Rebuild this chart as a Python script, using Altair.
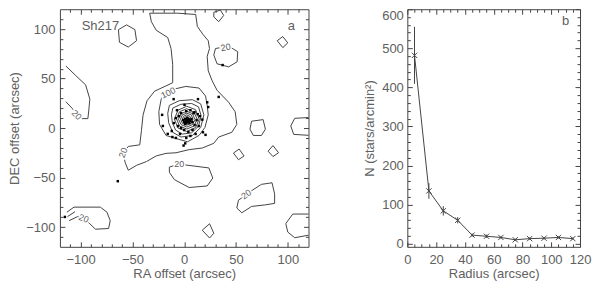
import altair as alt
import pandas as pd

TEXT = "#606060"
LINE = "#444444"
FONT = "Liberation Sans"

# ---------------- panel a : surface density contours (data units, arcsec) ----------------
c20_main = [[-33.3,116],[-6.3,116],[11.1,114.7],[12.7,102.6],[18.1,94.6],[23.2,88.2],[24.4,80.2],
            [22.2,72.3],[23.2,57.9],[27,47.7],[31.7,38.2],[42.9,26],[49.2,16.5],[50.8,3.7],[46,-4.3],
            [33.3,-9.1],[28.6,-15.4],[17.5,-20.2],[4.8,-21.8],[-7.9,-25],[-17.5,-25.6],[-27,-28.2],
            [-36.5,-33.9],[-46,-37.7],[-54,-42.6],[-57.1,-34.6],[-58.7,-25],[-54,-18.6],[-42.9,-17],
            [-41.3,-2.7],[-39.7,13.3],[-35.9,27.6],[-28.6,37.2],[-17.5,42.6],[-11.1,45.8],[-11.1,64.3],
            [-12.7,80.3],[-15.9,91.4],[-27,98.8],[-31.7,107.4],[-33.3,116]]
c20_north_small = [[30.2,80.3],[42.9,82.8],[51.7,77.1],[51.1,66.9],[42.9,61.8],[31.7,64.9],[28.6,73.8],[30.2,80.3]]
c20_hex = [[-63.5,99.4],[-55.6,104.2],[-47.6,99.4],[-46,88.2],[-54,81.8],[-62.5,86.6],[-63.5,99.4]]
c20_top_diamond = [[28.6,116.9],[34.9,119.2],[38.1,113.7],[33.3,107.4],[28.6,112.2],[28.6,116.9]]
c20_ne_diamond = [[89.8,88.2],[95.2,92.4],[100,86],[95.2,81.2],[89.8,88.2]]
c20_west = [[-114.3,62.7],[-104.8,53.1],[-95.2,43.6],[-91.1,29.2],[-92.1,18.1],[-93,9.5],[-98.4,9.5],
            [-103.8,13.3],[-107.9,19.6],[-114.3,26.6]]
c20_east_square = [[65.1,6.9],[76.2,8.5],[78.4,-1.1],[74.6,-7.5],[66.7,-7.5],[63.5,-1.1],[65.1,6.9]]
c20_east_edge = [[122,10.7],[106.7,9.8],[102.9,2.1],[105.7,-6.4],[122,-7.5]]
c20_se_diamond1 = [[47.6,-25.3],[53,-21.2],[57.8,-28.2],[52.4,-32],[47.6,-25.3]]
c20_se_diamond2 = [[81,-23.4],[85.7,-17.7],[91.1,-25],[85.7,-28.8],[81,-23.4]]
c20_se = [[52.4,-72.9],[65.1,-63.3],[74.6,-56.9],[84.8,-55.3],[87.3,-66.5],[87.3,-76.1],[77.8,-77.7],
          [65.1,-79.2],[55.6,-85.6],[50.8,-80.8],[52.4,-72.9]]
c20_se_edge = [[122,-86.9],[104.8,-86.9],[98.1,-96.5],[100,-105.1],[106.7,-110.8],[122,-107.9]]
c20_s_diamond = [[17.4,-103.2],[24.5,-96.7],[28.6,-106.3],[24.5,-111.1],[17.4,-103.2]]
c20_south = [[-14.3,-39.4],[-4.8,-36.5],[23.8,-40.3],[27.6,-50.5],[22.2,-58.5],[4.8,-60.1],[-9.5,-52.1],
             [-14.3,-44.7],[-14.3,-39.4]]
c20_sw = [[-113.3,-85],[-106.4,-79.9],[-81,-79.9],[-74.6,-85],[-71.4,-93.6],[-73,-101.5],[-85.7,-102.2],
          [-91.1,-96.7],[-96.9,-91.4],[-103.1,-89.5],[-111.1,-93.6]]
c20_sw_tick = [[-112.7,-89.5],[-105.4,-84.5]]
c100 = [[-20.6,34],[-9.5,39.4],[1.6,42],[14.3,40.4],[20.6,32.4],[22.2,22.9],[23.2,13.3],[20,0.5],
        [14.3,-7.5],[3.2,-13.9],[-7.9,-10.6],[-17.5,-7.5],[-23.8,3.7],[-24.5,16.5],[-22.2,29.2],[-20.6,34]]
ring1 = [[-14.3,22.9],[-4.8,27.6],[7.9,28.6],[15.9,24.4],[19,13.3],[15.9,0.5],[7.9,-7.5],[-3.1,-9.1],
         [-11.1,-4.3],[-15,5.3],[-15.9,14.8],[-14.3,22.9]]
ring2 = [[-11,20.2],[-3.2,24],[7.2,24.8],[13.8,21.4],[16.4,12.3],[13.8,1.8],[7.2,-4.8],[-1.8,-6.1],
         [-8.3,-2.1],[-11.5,5.7],[-12.3,13.5],[-11,20.2]]
ring3 = [[14.5,9],[11,18.5],[2.5,22],[-6,18],[-9.5,9],[-6,0],[2.5,-3.5],[11,0.5],[14.5,9]]
ring4 = [[12.5,9],[9.5,16],[2.5,19.5],[-4.5,16.5],[-7.5,9.5],[-4.5,2],[2.5,-1],[9.5,2],[12.5,9]]
ring5 = [[10.5,8.5],[8,14.5],[2.5,17],[-3,14.5],[-5.5,9],[-3,3.5],[2.5,1],[8,3.5],[10.5,8.5]]
ring6 = [[8.5,9],[6.8,13.3],[2.5,15],[-1.8,13.3],[-3.5,9],[-1.8,4.7],[2.5,3],[6.8,4.7],[8.5,9]]
ring7 = [[6.8,8.5],[5.5,11.8],[2.5,13.3],[-0.5,12],[-1.8,9],[-0.5,6],[2.5,4.8],[5.5,6],[6.8,8.5]]
ring8 = [[5.2,9],[4.4,10.9],[2.5,11.7],[0.6,10.9],[-0.2,9],[0.6,7.1],[2.5,6.3],[4.4,7.1],[5.2,9]]

contours = {
    "c20_main": c20_main, "c20_north_small": c20_north_small, "c20_hex": c20_hex,
    "c20_top_diamond": c20_top_diamond, "c20_ne_diamond": c20_ne_diamond, "c20_west": c20_west,
    "c20_east_square": c20_east_square, "c20_east_edge": c20_east_edge,
    "c20_se_diamond1": c20_se_diamond1, "c20_se_diamond2": c20_se_diamond2, "c20_se": c20_se,
    "c20_se_edge": c20_se_edge, "c20_s_diamond": c20_s_diamond, "c20_south": c20_south,
    "c20_sw": c20_sw, "c20_sw_tick": c20_sw_tick, "c100": c100,
    "ring1": ring1, "ring2": ring2, "ring3": ring3, "ring4": ring4,
    "ring5": ring5, "ring6": ring6, "ring7": ring7, "ring8": ring8,
}

# contour labels
lab_text = ["20", "20", "20", "20", "20", "20", "100"]
lab_x = [-103.8, -59, -4.8, 40, 60, -97, -15.5]
lab_y = [13.3, -25, -36.5, 81.5, -67, -91.4, 35.5]
lab_angle = [45, 290, 0, 349, 324, 20, 335]

# stars (black dots)
pts_x = [37.1, -64.1, -115.2, 33.3, -10.2, 0.3, 13.3, 22.2, 23.2, -21.3, -20.6, -15.9, -11.4, -0.6, 1,
         20.6, 18.1, 17.5, 2, 3, 4, 5, 1, 0, 3, 6, 2, 4, 7, -1, 5, 8, 1, -5, -8, -10, -6, -3, 0, 4, 8,
         10, 12, 13, 10, 6, 2, -3, -12, -8, 2, 15, 9, 11, 6, -4, 14, -7]
pts_y = [63.6, -53.7, -89.8, 31.4, 29.2, 23.4, 29.2, 26, 21.2, 13.3, 2.1, -5.9, -9.1, -17.7, -15.5,
         -6.9, -4.3, 8.5, 7, 8, 6, 8, 9, 6, 10, 7, 5, 9, 9, 8, 5, 6, 4, 12, 10, 5, 2, 0, -2, -4, -2,
         3, 8, 14, 16, 18, 17, 15, -3, -10, -10, 12, 15, -6, -8, -6, 2, 18]

# panel annotations
ann_a_text = ["Sh217", "a"]
ann_a_x = [-99, 100]
ann_a_y = [103, 103]

a_major = [-100, -50, 0, 50, 100]
a_minor = [-110, -90, -80, -70, -60, -40, -30, -20, -10, 10, 20, 30, 40, 60, 70, 80, 90, 110]

# ---------------- panel b : radial profile ----------------
r_vals = [5, 15, 25, 35, 45, 55, 65, 75, 85, 95, 105, 115]
n_vals = [482, 135, 84, 60, 22, 19, 16, 10, 13, 14, 16, 13]
n_err = [73, 20, 12, 8, 4, 4, 3, 3, 3, 3, 3, 3]

b_x_major = [0, 20, 40, 60, 80, 100, 120]
b_x_minor = [5, 10, 15, 25, 30, 35, 45, 50, 55, 65, 70, 75, 85, 90, 95, 105, 110, 115]
b_y_major = [0, 100, 200, 300, 400, 500, 600]
b_y_minor = [20, 40, 60, 80, 120, 140, 160, 180, 220, 240, 260, 280, 320, 340, 360, 380,
             420, 440, 460, 480, 520, 540, 560, 580]

# ---------------- build tables ----------------
rows = []
for name, pts in contours.items():
    for i, (x, y) in enumerate(pts):
        rows.append({"seg": name, "i": i, "x": x, "y": y})
contour_df = pd.DataFrame(rows)
labels_df = pd.DataFrame({"t": lab_text, "x": lab_x, "y": lab_y, "ang": lab_angle})
pts_df = pd.DataFrame({"x": pts_x, "y": pts_y})
prof_df = pd.DataFrame({"r": r_vals, "n": n_vals, "e": n_err})
dummy_a = pd.DataFrame({"x": [0], "y": [0]})
dummy_b = pd.DataFrame({"r": [60], "n": [300]})


def tick_axis(orient, values, size, labels=False, title=None, **kw):
    params = dict(orient=orient, values=values, tickSize=size, offset=-size, domain=False,
                  grid=False, labels=labels, ticks=True, tickColor=LINE, tickWidth=1, title=title)
    params.update(kw)
    return alt.Axis(**params)


W_A, H = 249, 238
W_B = 173
xs_a = alt.Scale(domain=[-120, 120], nice=False, zero=False)
ys_a = alt.Scale(domain=[-120, 120], nice=False, zero=False)

lines_a = alt.Chart(contour_df).mark_line(clip=True, color=LINE, strokeWidth=1).encode(
    x=alt.X("x:Q", scale=xs_a,
            axis=tick_axis("bottom", a_major, 5, labels=True, title="RA offset (arcsec)",
                           labelPadding=7, titlePadding=1)),
    y=alt.Y("y:Q", scale=ys_a,
            axis=tick_axis("left", a_major, 5, labels=True, title="DEC offset (arcsec)",
                           labelPadding=5, titlePadding=4)),
    detail="seg:N",
    order="i:Q",
)
halo_a = alt.Chart(labels_df).mark_text(font=FONT, fontSize=9, stroke="white", strokeWidth=3,
                                        fill="white").encode(
    x=alt.X("x:Q", scale=xs_a, axis=None), y=alt.Y("y:Q", scale=ys_a, axis=None),
    text="t:N", angle=alt.Angle("ang:Q", scale=None))
text_a = alt.Chart(labels_df).mark_text(font=FONT, fontSize=9, color=TEXT).encode(
    x=alt.X("x:Q", scale=xs_a, axis=None), y=alt.Y("y:Q", scale=ys_a, axis=None),
    text="t:N", angle=alt.Angle("ang:Q", scale=None))
dots_a = alt.Chart(pts_df).mark_square(size=6, color="black", opacity=1).encode(
    x=alt.X("x:Q", scale=xs_a, axis=None), y=alt.Y("y:Q", scale=ys_a, axis=None))
ann_a = alt.Chart(pd.DataFrame({"t": ann_a_text, "x": ann_a_x, "y": ann_a_y})).mark_text(
    font=FONT, fontSize=13, color=TEXT, align="left").encode(
    x=alt.X("x:Q", scale=xs_a, axis=None), y=alt.Y("y:Q", scale=ys_a, axis=None), text="t:N")
ax_a1 = alt.Chart(dummy_a).mark_point(opacity=0).encode(
    x=alt.X("x:Q", scale=xs_a, axis=tick_axis("top", a_major, 5)),
    y=alt.Y("y:Q", scale=ys_a, axis=tick_axis("right", a_major, 5)))
ax_a2 = alt.Chart(dummy_a).mark_point(opacity=0).encode(
    x=alt.X("x:Q", scale=xs_a, axis=tick_axis("bottom", a_minor, 3)),
    y=alt.Y("y:Q", scale=ys_a, axis=tick_axis("left", a_minor, 3)))
ax_a3 = alt.Chart(dummy_a).mark_point(opacity=0).encode(
    x=alt.X("x:Q", scale=xs_a, axis=tick_axis("top", a_minor, 3)),
    y=alt.Y("y:Q", scale=ys_a, axis=tick_axis("right", a_minor, 3)))

panel_a = alt.layer(lines_a, halo_a, text_a, dots_a, ann_a, ax_a1, ax_a2, ax_a3).resolve_axis(
    x="independent", y="independent").properties(width=W_A, height=H)

xs_b = alt.Scale(domain=[0, 120], nice=False, zero=False)
ys_b = alt.Scale(domain=[-8, 600], nice=False, zero=False)

base_b = alt.Chart(prof_df).transform_calculate(lo="datum.n - datum.e", hi="datum.n + datum.e")
err_b = base_b.mark_rule(color=LINE, strokeWidth=1).encode(
    x=alt.X("r:Q", scale=xs_b,
            axis=tick_axis("bottom", b_x_major, 5, labels=True, title="Radius (arcsec)",
                           labelPadding=7, titlePadding=1, labelFlush=False)),
    y=alt.Y("lo:Q", scale=ys_b,
            axis=tick_axis("left", b_y_major, 5, labels=True, title="N (stars/arcmin²)",
                           labelPadding=4, titlePadding=5, labelFlush=True)),
    y2="hi:Q")
line_b = base_b.mark_line(color=LINE, strokeWidth=1).encode(
    x=alt.X("r:Q", scale=xs_b, axis=None), y=alt.Y("n:Q", scale=ys_b, axis=None))
mark_b = base_b.mark_point(shape="M-1,-1L1,1M-1,1L1,-1", size=28, color=LINE, strokeWidth=1,
                           filled=False, opacity=1).encode(
    x=alt.X("r:Q", scale=xs_b, axis=None), y=alt.Y("n:Q", scale=ys_b, axis=None))
ann_b = alt.Chart(pd.DataFrame({"t": ["b"], "r": [110], "n": [571]})).mark_text(
    font=FONT, fontSize=13, color=TEXT).encode(
    x=alt.X("r:Q", scale=xs_b, axis=None), y=alt.Y("n:Q", scale=ys_b, axis=None), text="t:N")
ax_b1 = alt.Chart(dummy_b).mark_point(opacity=0).encode(
    x=alt.X("r:Q", scale=xs_b, axis=tick_axis("top", b_x_major, 5)),
    y=alt.Y("n:Q", scale=ys_b, axis=tick_axis("right", b_y_major, 5)))
ax_b2 = alt.Chart(dummy_b).mark_point(opacity=0).encode(
    x=alt.X("r:Q", scale=xs_b, axis=tick_axis("bottom", b_x_minor, 3)),
    y=alt.Y("n:Q", scale=ys_b, axis=tick_axis("left", b_y_minor, 3)))
ax_b3 = alt.Chart(dummy_b).mark_point(opacity=0).encode(
    x=alt.X("r:Q", scale=xs_b, axis=tick_axis("top", b_x_minor, 3)),
    y=alt.Y("n:Q", scale=ys_b, axis=tick_axis("right", b_y_minor, 3)))

panel_b = alt.layer(err_b, line_b, mark_b, ann_b, ax_b1, ax_b2, ax_b3).resolve_axis(
    x="independent", y="independent").properties(width=W_B, height=H)

chart = alt.hconcat(panel_a, panel_b, spacing=99, bounds="flush").resolve_scale(
    x="independent", y="independent").properties(
    padding={"left": 0, "top": 0, "right": 0, "bottom": 0}
).configure_view(stroke=LINE, strokeWidth=1).configure_axis(
    labelFont=FONT, labelFontSize=13, labelColor=TEXT,
    titleFont=FONT, titleFontSize=13, titleColor=TEXT, titleFontWeight="normal")

chart.save("out.html", embed_options={"renderer": "svg", "actions": False})
